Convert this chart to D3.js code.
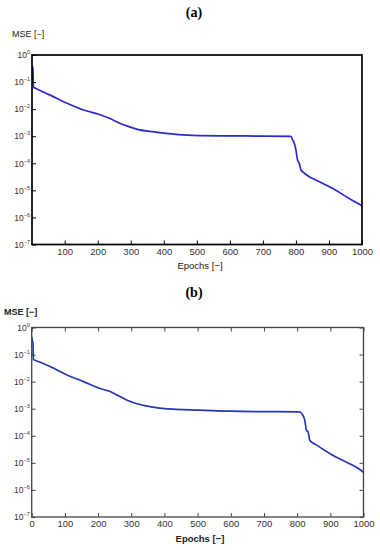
<html>
<head>
<style>
  body { margin: 0; background: #fff; }
  svg text { font-family: "Liberation Sans", Arial, sans-serif; }
</style>
</head>
<body>
<svg width="380" height="550"></svg>
<script src="https://d3js.org/d3.v7.min.js"></script>
<script>

// panel (a)
var epochsA = [2, 3, 4, 5, 6, 10, 30, 56, 107, 157, 207, 237, 260, 288, 320, 358, 400, 458, 509, 600, 700, 785, 790, 795, 800, 805, 810, 815, 820, 840, 860, 910, 960, 1000];
var mseA = [0.42, 0.12, 0.35, 0.08, 0.064, 0.06, 0.046, 0.033, 0.0166, 0.0093, 0.0062, 0.0045, 0.0033, 0.0024, 0.0018, 0.0015, 0.0013, 0.00112, 0.00105, 0.00103, 0.00101, 0.00099, 0.00073, 0.00055, 0.00031, 0.00013, 0.0001, 0.000057, 0.000049, 0.000032, 0.000024, 0.000012, 0.0000051, 0.0000027];
var strayA = [{e: 940, v: 0.0000105}];

// panel (b)
var epochsB = [0, 2, 4, 5, 10, 55, 105, 156, 206, 236, 260, 286, 320, 356, 400, 436, 507, 600, 700, 807, 813, 818, 823, 828, 833, 838, 858, 907, 958, 988, 1000];
var mseB = [0.46, 0.33, 0.25, 0.065, 0.062, 0.036, 0.018, 0.01, 0.0056, 0.0043, 0.0031, 0.0021, 0.0015, 0.0012, 0.001, 0.00095, 0.00089, 0.00081, 0.00078, 0.00076, 0.00068, 0.00055, 0.00038, 0.00016, 0.00014, 0.000069, 0.000046, 0.000019, 0.0000093, 0.0000058, 0.0000045];

var yTickExps = [0, -1, -2, -3, -4, -5, -6, -7];
var xTicksA = [100, 200, 300, 400, 500, 600, 700, 800, 900, 1000];
var xTicksB = [0, 100, 200, 300, 400, 500, 600, 700, 800, 900, 1000];

var svg = d3.select("svg");

function supLabels(g) {
  g.selectAll(".tick text").each(function(d) {
    var t = d3.select(this);
    var e = Math.round(Math.log10(d));
    t.text("10");
    t.append("tspan").attr("dy", -4).attr("font-size", 5.5).text(e === 0 ? "0" : "\u2212" + (-e));
  });
}

function panel(p) {
  var x = d3.scaleLinear().domain(p.xDomain).range([p.left, p.right]);
  var y = d3.scaleLog().domain([1e-7, 1]).range([p.bottom, p.top]);
  var g = svg.append("g");

  g.append("clipPath").attr("id", "clip" + p.id)
    .append("rect")
    .attr("x", p.left).attr("y", p.top)
    .attr("width", p.right - p.left).attr("height", p.bottom - p.top);

  // title
  g.append("text")
    .attr("x", 194).attr("y", p.titleY)
    .attr("text-anchor", "middle")
    .style("font-family", "'Liberation Serif', 'DejaVu Serif', serif")
    .style("font-weight", "bold").style("font-size", "14px")
    .text(p.title);

  var yAxis = g.append("g")
    .attr("transform", "translate(" + p.left + ",0)")
    .call(d3.axisLeft(y).tickValues(yTickExps.map(function(e) { return Math.pow(10, e); }))
      .tickSize(-4).tickPadding(2).tickSizeOuter(0))
    .call(supLabels);
  yAxis.select(".domain").remove();
  yAxis.selectAll("text").attr("font-size", 8.5).attr("fill", "#333");
  yAxis.selectAll("tspan").attr("font-size", 5.5);
  yAxis.selectAll("line").attr("stroke", p.frame);

  var xAxis = g.append("g")
    .attr("transform", "translate(0," + p.bottom + ")")
    .call(d3.axisBottom(x).tickValues(p.xTicks).tickFormat(d3.format("d"))
      .tickSize(-4).tickPadding(p.xPad).tickSizeOuter(0));
  xAxis.select(".domain").remove();
  xAxis.selectAll("text").attr("font-size", 9.5).attr("fill", "#333");
  xAxis.selectAll("line").attr("stroke", p.frame);

  if (p.allTicks) {
    var top = g.append("g").attr("transform", "translate(0," + p.top + ")")
      .call(d3.axisTop(x).tickValues(p.xTicks).tickSize(-4).tickFormat("").tickSizeOuter(0));
    top.select(".domain").remove();
    top.selectAll("line").attr("stroke", p.frame);
    var right = g.append("g").attr("transform", "translate(" + p.right + ",0)")
      .call(d3.axisRight(y).tickValues(yTickExps.map(function(e) { return Math.pow(10, e); }))
        .tickSize(-4).tickFormat("").tickSizeOuter(0));
    right.select(".domain").remove();
    right.selectAll("line").attr("stroke", p.frame);
  }

  var line = d3.line()
    .x(function(d) { return x(d[0]); })
    .y(function(d) { return y(d[1]); })
    .curve(d3.curveMonotoneX);

  g.append("path")
    .datum(p.epochs.map(function(e, i) { return [e, p.mse[i]]; }))
    .attr("clip-path", "url(#clip" + p.id + ")")
    .attr("d", line)
    .attr("fill", "none")
    .attr("stroke", p.color)
    .attr("stroke-width", 1.7)
    .attr("stroke-linejoin", "round");

  if (p.stray) {
    g.selectAll(".stray").data(p.stray).enter().append("circle")
      .attr("cx", function(d) { return x(d.e); })
      .attr("cy", function(d) { return y(d.v); })
      .attr("r", 0.8).attr("fill", "#8a8ad8");
  }

  // frame
  g.append("rect")
    .attr("x", p.left).attr("y", p.top)
    .attr("width", p.right - p.left).attr("height", p.bottom - p.top)
    .attr("fill", "none").attr("stroke", p.frame).attr("stroke-width", p.frameW);

  g.append("text")
    .attr("x", p.mseX).attr("y", p.mseY)
    .attr("font-size", 9).attr("fill", "#222")
    .style("font-weight", p.bold ? "bold" : "normal")
    .text("MSE [\u2212]");

  g.append("text")
    .attr("x", 200).attr("y", p.epY)
    .attr("text-anchor", "middle")
    .attr("font-size", 9.5).attr("fill", "#222")
    .style("font-weight", p.bold ? "bold" : "normal")
    .text("Epochs [\u2212]");
}

panel({
  id: "a", title: "(a)", titleY: 17,
  left: 32, right: 362, top: 55, bottom: 244.5,
  xDomain: [1, 1000], xTicks: xTicksA, xPad: 4,
  epochs: epochsA, mse: mseA, stray: strayA,
  color: "#2b2bd4", frame: "#000", frameW: 1.7,
  mseX: 12, mseY: 37, epY: 269, bold: false, allTicks: false
});

panel({
  id: "b", title: "(b)", titleY: 297,
  left: 31.7, right: 363.5, top: 327.5, bottom: 517,
  xDomain: [0, 1000], xTicks: xTicksB, xPad: 3,
  epochs: epochsB, mse: mseB,
  color: "#2634b8", frame: "#444", frameW: 1.3,
  mseX: 4, mseY: 315, epY: 542, bold: true, allTicks: true
});

</script>
</body>
</html>
